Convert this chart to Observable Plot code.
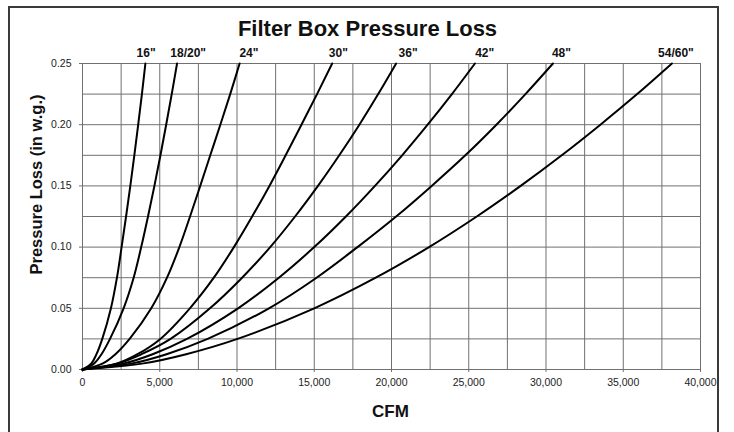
<!DOCTYPE html>
<html><head><meta charset="utf-8">
<script src="https://cdn.jsdelivr.net/npm/d3@7"></script>
<script src="https://cdn.jsdelivr.net/npm/@observablehq/plot@0.6"></script>
<style>
body{margin:0;background:#fff;}
#wrap{position:relative;width:734px;height:432px;overflow:hidden;background:#fff;}
#frame{position:absolute;left:8px;top:6px;width:711px;height:470px;border:2px solid #3a3a3a;box-sizing:border-box;pointer-events:none;}
#chart{position:absolute;left:0;top:0;}
</style></head><body>
<div id="wrap"><div id="chart"></div><div id="frame"></div></div>
<script>
// Pressure loss levels (in w.g.) at which CFM was read for each filter size
const pressureLevels = [0, 0.005, 0.0125, 0.025, 0.05, 0.075, 0.1, 0.125, 0.15, 0.175, 0.2, 0.225, 0.25];
const cfm16   = [0,  575,  905,  1280,  1840,  2230,  2530,  2820,  3095,  3355,  3605,  3845,  4070];
const cfm1820 = [0,  755, 1230,  1780,  2660,  3310,  3800,  4240,  4655,  5045,  5415,  5775,  6120];
const cfm24   = [0, 1320, 2130,  3050,  4450,  5470,  6270,  6960,  7620,  8270,  8920,  9560, 10170];
const cfm30   = [0, 2250, 3560,  5040,  6950,  8500,  9800, 10980, 12100, 13150, 14170, 15180, 16160];
const cfm36   = [0, 2300, 3820,  5700,  8250, 10330, 12150, 13760, 15240, 16620, 17920, 19140, 20300];
const cfm42   = [0, 2680, 4540,  6760, 10070, 12710, 15000, 17050, 18930, 20690, 22340, 23910, 25400];
const cfm48   = [0, 3210, 5440,  8100, 12070, 15150, 17800, 20300, 22600, 24780, 26790, 28670, 30450];
const cfm5460 = [0, 3950, 6710, 10030, 15000, 18980, 22430, 25520, 28360, 31020, 33520, 35900, 38150];

const sizes = ['16"', '18/20"', '24"', '30"', '36"', '42"', '48"', '54/60"'];
const labelCFM = [4115, 6840, 10770, 16560, 21075, 26030, 31000, 38410];

const xTicks = [0, 5000, 10000, 15000, 20000, 25000, 30000, 35000, 40000];
const yTicks = [0, 0.05, 0.10, 0.15, 0.20, 0.25];
const xGrid = [0, 2500, 5000, 7500, 10000, 12500, 15000, 17500, 20000, 22500, 25000, 27500, 30000, 32500, 35000, 37500, 40000];
const yGrid = [0, 0.025, 0.05, 0.075, 0.1, 0.125, 0.15, 0.175, 0.2, 0.225, 0.25];

const seriesCFM = [cfm16, cfm1820, cfm24, cfm30, cfm36, cfm42, cfm48, cfm5460];
const rows = sizes.flatMap((s, i) => seriesCFM[i].map((c, j) => ({size: s, cfm: c, p: pressureLevels[j]})));
const labels = sizes.map((s, i) => ({size: s, cfm: labelCFM[i], p: 0.25}));

const font = "Liberation Sans, Arial, Helvetica, sans-serif";
const chart = Plot.plot({
  width: 734, height: 432,
  marginLeft: 82, marginRight: 34, marginTop: 63, marginBottom: 63,
  style: {fontFamily: font, fontSize: "10.5px", color: "#222", background: "transparent", overflow: "visible"},
  x: {domain: [0, 40000]},
  y: {domain: [0, 0.25]},
  marks: [
    Plot.ruleX(xGrid, {x: d => d, stroke: "#707070", strokeWidth: 1}),
    Plot.ruleY(yGrid, {y: d => d, stroke: "#707070", strokeWidth: 1}),
    Plot.axisX({ticks: xTicks, tickFormat: d3.format(","), tickSize: 3, tickPadding: 6, label: null, stroke: "#707070", fill: "#222"}),
    Plot.axisY({ticks: yTicks, tickFormat: d3.format(".2f"), tickSize: 3, tickPadding: 8, label: null, stroke: "#707070", fill: "#222"}),
    Plot.line(rows, {x: "cfm", y: "p", z: "size", curve: "catmull-rom", stroke: "black", strokeWidth: 2}),
    Plot.text(labels, {x: "cfm", y: "p", text: "size", lineAnchor: "bottom", dy: -7, fontWeight: "bold", fontSize: 12, fill: "#111"}),
    Plot.text(["Filter Box Pressure Loss"], {frameAnchor: "top", dx: -24, dy: -28, lineAnchor: "bottom", fontWeight: "bold", fontSize: 22, fill: "#111"}),
    Plot.text(["CFM"], {frameAnchor: "bottom", dx: -1, dy: 47, lineAnchor: "bottom", fontWeight: "bold", fontSize: 17, fill: "#111"}),
    Plot.text(["Pressure Loss (in w.g.)"], {frameAnchor: "left", dx: -46, dy: -32, rotate: -90, lineAnchor: "middle", textAnchor: "middle", fontWeight: "bold", fontSize: 16.5, fill: "#111"})
  ]
});
document.getElementById("chart").appendChild(chart);
</script>
</body></html>
